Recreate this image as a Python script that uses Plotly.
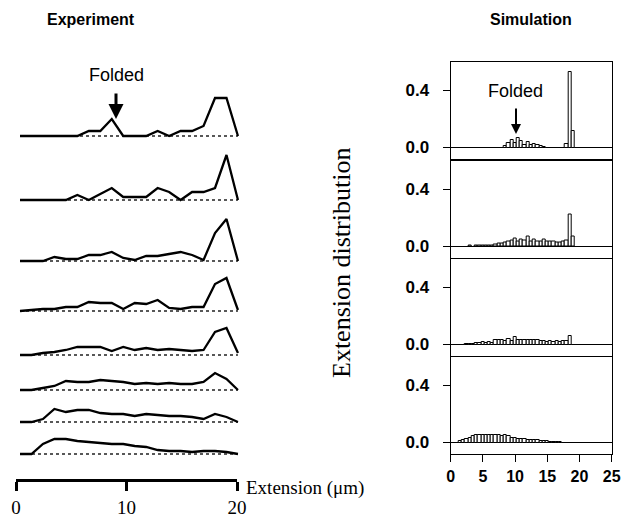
import plotly.graph_objects as go

W, H = 621, 517


def fx(p):
    return p / W


def fy(p):
    return 1 - p / H


# ---------------- data ----------------
# Experiment: extension histograms (1 um bins), relative frequency, 8 traces top->bottom
exp_x = [0.5, 1.5, 2.5, 3.5, 4.5, 5.5, 6.5, 7.5, 8.5, 9.5,
         10.5, 11.5, 12.5, 13.5, 14.5, 15.5, 16.5, 17.5, 18.5, 19.5]
exp_1 = [0, 0, 0, 0, 0, 0, 0.05, 0.05, 0.17, 0, 0, 0, 0.05, 0, 0.05, 0.05, 0.10, 0.38, 0.38, 0]
exp_2 = [0, 0, 0, 0, 0, 0.05, 0, 0.06, 0.12, 0.03, 0.03, 0.03, 0.12, 0.08, 0, 0.08, 0.08, 0.12, 0.45, 0]
exp_3 = [0, 0, 0, 0.04, 0.02, 0.02, 0.06, 0.06, 0.09, 0.03, 0.01, 0.05, 0.05, 0.07, 0.09, 0.06, 0.01, 0.28, 0.42, 0]
exp_4 = [0, 0.01, 0.02, 0.02, 0.04, 0.04, 0.09, 0.08, 0.08, 0.02, 0.08, 0.07, 0.11, 0.03, 0.02, 0.04, 0.04, 0.27, 0.33, 0.01]
exp_5 = [0, 0, 0.02, 0.03, 0.05, 0.08, 0.08, 0.08, 0.04, 0.08, 0.05, 0.07, 0.05, 0.06, 0.05, 0.04, 0.05, 0.23, 0.27, 0.02]
exp_6 = [0, 0, 0.02, 0.04, 0.09, 0.08, 0.08, 0.10, 0.09, 0.08, 0.06, 0.07, 0.06, 0.07, 0.06, 0.06, 0.08, 0.17, 0.11, 0]
exp_7 = [0, 0, 0.03, 0.13, 0.10, 0.12, 0.12, 0.09, 0.08, 0.08, 0.06, 0.08, 0.07, 0.06, 0.06, 0.05, 0.03, 0.08, 0.05, 0]
exp_8 = [0, 0, 0.10, 0.15, 0.15, 0.13, 0.12, 0.11, 0.10, 0.10, 0.08, 0.07, 0.04, 0.03, 0.03, 0.02, 0.03, 0.03, 0.02, 0]
exp_traces = [exp_1, exp_2, exp_3, exp_4, exp_5, exp_6, exp_7, exp_8]

# Simulation: extension distribution (0.5 um bins), 4 panels top->bottom
sim_x1 = [8.5, 9.0, 9.5, 10.0, 10.5, 11.0, 11.5, 12.0, 12.5, 13.0, 13.5, 14.0, 14.5,
          18.0, 18.5, 19.0]
sim_y1 = [0.012, 0.035, 0.05, 0.03, 0.065, 0.045, 0.02, 0.04, 0.02, 0.028, 0.015, 0.008, 0.006,
          0.026, 0.533, 0.119]

sim_x2 = [3.0, 4.0, 4.5, 5.0, 5.5, 6.0, 6.5, 7.0, 7.5, 8.0, 8.5, 9.0, 9.5, 10.0, 10.5,
          11.0, 11.5, 12.0, 12.5, 13.0, 13.5, 14.0, 14.5, 15.0, 15.5, 16.0, 16.5, 17.0,
          17.5, 18.0, 18.5, 19.0]
sim_y2 = [0.004, 0.004, 0.004, 0.004, 0.004, 0.004, 0.006, 0.01, 0.015, 0.02, 0.025, 0.032,
          0.04, 0.055, 0.035, 0.045, 0.04, 0.065, 0.035, 0.045, 0.035, 0.035, 0.045, 0.035,
          0.035, 0.03, 0.028, 0.025, 0.03, 0.04, 0.218, 0.065]

sim_x3 = [2.5, 3.0, 3.5, 4.0, 4.5, 5.0, 5.5, 6.0, 6.5, 7.0, 7.5, 8.0, 8.5, 9.0, 9.5, 10.0,
          10.5, 11.0, 11.5, 12.0, 12.5, 13.0, 13.5, 14.0, 14.5, 15.0, 15.5, 16.0, 16.5,
          17.0, 17.5, 18.0, 18.5]
sim_y3 = [0.004, 0.004, 0.004, 0.008, 0.012, 0.018, 0.012, 0.018, 0.012, 0.035, 0.03, 0.035,
          0.028, 0.042, 0.028, 0.052, 0.035, 0.03, 0.03, 0.035, 0.035, 0.03, 0.035, 0.028,
          0.022, 0.018, 0.028, 0.018, 0.026, 0.018, 0.022, 0.025, 0.058]

sim_x4 = [1.5, 2.0, 2.5, 3.0, 3.5, 4.0, 4.5, 5.0, 5.5, 6.0, 6.5, 7.0, 7.5, 8.0, 8.5, 9.0,
          9.5, 10.0, 10.5, 11.0, 11.5, 12.0, 12.5, 13.0, 13.5, 14.0, 14.5, 15.0, 15.5,
          16.0, 16.5, 17.0]
sim_y4 = [0.01, 0.018, 0.028, 0.035, 0.048, 0.055, 0.055, 0.055, 0.052, 0.055, 0.052, 0.055,
          0.05, 0.045, 0.05, 0.045, 0.035, 0.03, 0.028, 0.024, 0.024, 0.02, 0.018, 0.016,
          0.018, 0.013, 0.01, 0.01, 0.006, 0.005, 0.004, 0.007]

sim_panels = [(sim_x1, sim_y1), (sim_x2, sim_y2), (sim_x3, sim_y3), (sim_x4, sim_y4)]

sim_xticks = [0, 5, 10, 15, 20, 25]
sim_yticks = [0.0, 0.4]
sim_yticktext = ["0.0", "0.4"]
scale_ticks = [0, 10, 20]

# ---------------- layout constants ----------------
exp_baseline_px = [136, 200, 261, 311, 355, 390, 422, 454]
sim_panel_px = [(62, 159.2), (160.5, 257.7), (259, 356.2), (357, 454.2)]
SANS = "Liberation Sans, Arial, sans-serif"
SERIF = "Liberation Serif, Times New Roman, serif"

fig = go.Figure()
layout = {}

# Experiment traces
layout["xaxis"] = dict(domain=[fx(14.26), fx(243.7)], range=[0, 20], visible=False,
                       anchor="y", fixedrange=True)
for k, vals in enumerate(exp_traces):
    yname = "y" if k == 0 else f"y{k + 1}"
    b = exp_baseline_px[k]
    fig.add_trace(go.Scatter(x=[exp_x[0], exp_x[-1]], y=[0, 0], xaxis="x", yaxis=yname,
                             mode="lines", line=dict(color="#222", width=1.3, dash="dot"),
                             hoverinfo="skip", showlegend=False))
    fig.add_trace(go.Scatter(x=exp_x, y=vals, xaxis="x", yaxis=yname, mode="lines",
                             line=dict(color="black", width=2.3), showlegend=False))
    layout["yaxis" if k == 0 else f"yaxis{k + 1}"] = dict(
        domain=[fy(b + 3), fy(b - 50)], range=[-0.03, 0.5], visible=False, anchor="x")

# Simulation panels
for i, (sx, sy) in enumerate(sim_panels):
    xa = f"x{i + 2}"
    ya = f"y{i + 9}"
    top, bot = sim_panel_px[i]
    fig.add_trace(go.Bar(x=sx, y=sy, width=0.5, xaxis=xa, yaxis=ya,
                         marker=dict(color="white", line=dict(color="black", width=1)),
                         showlegend=False))
    last = i == 3
    layout[f"xaxis{i + 2}"] = dict(
        domain=[fx(450.7), fx(611.7)], range=[0, 25], anchor=ya,
        showline=True, mirror=True, linecolor="black", linewidth=1.3,
        showgrid=False, zeroline=False,
        ticks="outside" if last else "", ticklen=7, tickwidth=1.3, tickcolor="black",
        tickvals=sim_xticks, showticklabels=last,
        tickfont=dict(family=SANS, size=16, color="black", weight="bold"))
    layout[f"yaxis{i + 9}"] = dict(
        domain=[fy(bot), fy(top)], range=[-0.082, 0.6], anchor=xa,
        showline=True, mirror=True, linecolor="black", linewidth=1.3,
        showgrid=False, zeroline=True, zerolinecolor="black", zerolinewidth=1,
        ticks="outside", ticklen=7, tickwidth=1.3, tickcolor="black",
        tickvals=sim_yticks, ticktext=sim_yticktext, ticklabelstandoff=10,
        tickfont=dict(family=SANS, size=17, color="black", weight="bold"))

# Scale bar for experiment
fig.add_trace(go.Scatter(x=[0, 20], y=[0, 0], xaxis="x6", yaxis="y13", mode="lines",
                         line=dict(color="rgba(0,0,0,0)"), hoverinfo="skip", showlegend=False))
layout["xaxis6"] = dict(domain=[fx(16), fx(237)], range=[0, 20], anchor="y13",
                        showline=True, linecolor="black", linewidth=2.5,
                        ticks="outside", ticklen=9, tickwidth=2.5, tickcolor="black",
                        tickvals=scale_ticks, showgrid=False, zeroline=False,
                        tickfont=dict(family=SERIF, size=19, color="black"))
layout["yaxis13"] = dict(domain=[fy(479), fy(470)], visible=False, anchor="x6", range=[0, 1])

annotations = [
    dict(x=fx(91), y=fy(20), text="<b>Experiment</b>", showarrow=False,
         font=dict(family=SANS, size=16, color="black")),
    dict(x=fx(531), y=fy(20), text="<b>Simulation</b>", showarrow=False,
         font=dict(family=SANS, size=16, color="black")),
    dict(x=fx(116), y=fy(75), text="Folded", showarrow=False,
         font=dict(family=SANS, size=18, color="black")),
    dict(x=fx(116), y=fy(119), ax=0, ay=-27, text="", showarrow=True,
         arrowhead=2, arrowsize=1, arrowwidth=3, arrowcolor="black"),
    dict(x=fx(515), y=fy(91), text="Folded", showarrow=False,
         font=dict(family=SANS, size=18, color="black")),
    dict(x=fx(516), y=fy(134), ax=0, ay=-27, text="", showarrow=True,
         arrowhead=2, arrowsize=1, arrowwidth=2, arrowcolor="black"),
    dict(x=fx(341), y=fy(263), text="Extension distribution", textangle=-90, showarrow=False,
         font=dict(family=SERIF, size=26, color="black")),
    dict(x=fx(305), y=fy(488), text="Extension (μm)", showarrow=False,
         font=dict(family=SERIF, size=19, color="black")),
]
for a in annotations:
    a.setdefault("xref", "paper")
    a.setdefault("yref", "paper")
    a.setdefault("xanchor", "center")
    a.setdefault("yanchor", "middle")

fig.update_layout(
    width=W, height=H, margin=dict(l=0, r=0, t=0, b=0, autoexpand=False),
    paper_bgcolor="white", plot_bgcolor="rgba(0,0,0,0)",
    bargap=0, showlegend=False, annotations=annotations, **layout)

fig.write_html("out.html",
               config={"displayModeBar": False},
               post_script="document.body.style.margin='0';"
                           "document.body.style.overflow='hidden';")
